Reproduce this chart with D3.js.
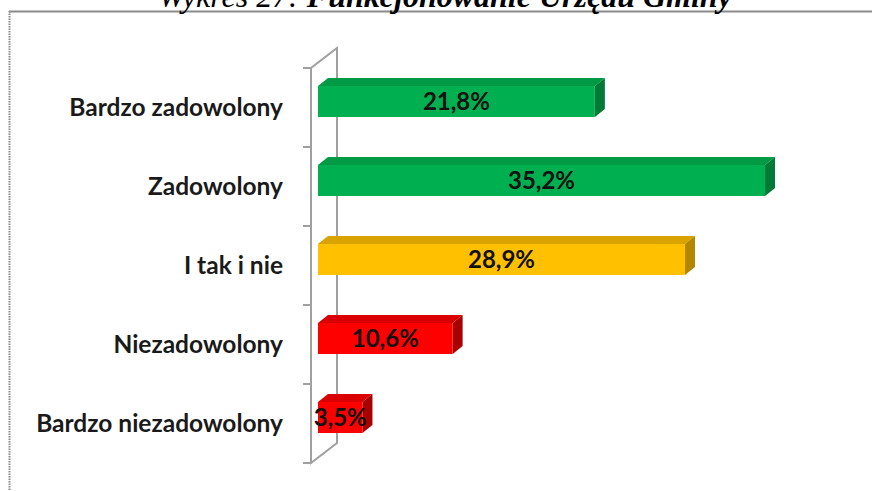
<!doctype html>
<html lang="pl">
<head>
<meta charset="UTF-8">
<title>Funkcjonowanie Urzędu Gminy</title>
<script src="https://d3js.org/d3.v7.min.js"></script>
<style>
    body { margin: 0; background: #fff; overflow: hidden; }
    svg { display: block; }
</style>
</head>
<body>
<div id="chart"></div>
<script>
    // data
    const categories = ["Bardzo zadowolony", "Zadowolony", "I tak i nie", "Niezadowolony", "Bardzo niezadowolony"];
    const values = [21.8, 35.2, 28.9, 10.6, 3.5];
    const valueLabels = ["21,8%", "35,2%", "28,9%", "10,6%", "3,5%"];
    const colorGroup = ["good", "good", "mid", "bad", "bad"];

    // face / top / side colours
    const palette = {
        good: ["#00b050", "#009a45", "#007a36"],
        mid:  ["#ffc000", "#d9a300", "#b38600"],
        bad:  ["#ff0000", "#d80000", "#a80000"]
    };

    const W = 872, H = 491;
    const svg = d3.select("#chart").append("svg")
        .attr("width", W).attr("height", H);

    // outer frame: solid top, dotted left
    svg.append("line")
        .attr("x1", 9).attr("x2", W).attr("y1", 11.5).attr("y2", 11.5)
        .attr("stroke", "#8a8a8a").attr("stroke-width", 2);
    svg.append("line")
        .attr("x1", 9.5).attr("x2", 9.5).attr("y1", 11).attr("y2", H)
        .attr("stroke", "#8a8a8a").attr("stroke-width", 2)
        .attr("stroke-dasharray", "1.5,1");

    // title (cut at the top like the scan)
    const title = svg.append("text")
        .attr("x", 445).attr("y", 7)
        .attr("text-anchor", "middle")
        .style("font-family", "'Liberation Serif', 'Times New Roman', serif")
        .style("font-style", "italic")
        .style("font-size", "32px");
    title.append("tspan").text("Wykres 27: ");
    title.append("tspan").style("font-weight", "bold").text("Funkcjonowanie Urzędu Gminy");

    const x = d3.scaleLinear().domain([0, 40]).range([318, 318 + 508]);
    const y = d3.scaleBand().domain(categories).range([68, 463]);

    const depthX = 10, depthY = -8;   // bar depth
    const wallX = 26, wallY = -20;    // axis wall depth
    const axisX = 311;
    const barH = 31;

    // axis wall
    const wall = svg.append("g")
        .attr("fill", "none")
        .attr("stroke", "#a0a0a0")
        .attr("stroke-width", 2);
    wall.append("path")
        .attr("d", "M" + axisX + "," + y.range()[0] + "V" + y.range()[1] +
            "L" + (axisX + wallX) + "," + (y.range()[1] + wallY) +
            "V" + (y.range()[0] + wallY) + "Z");

    // category ticks
    const tickYs = categories.map(c => y(c)).concat([y.range()[1]]);
    wall.selectAll("line.tick")
        .data(tickYs)
        .join("line")
        .attr("class", "tick")
        .attr("x1", axisX - 8).attr("x2", axisX)
        .attr("y1", d => d).attr("y2", d => d);

    // category labels
    svg.append("g").selectAll("text")
        .data(categories)
        .join("text")
        .attr("x", 283)
        .attr("y", d => y(d) + y.bandwidth() / 2)
        .attr("dy", "0.35em")
        .attr("text-anchor", "end")
        .style("font-family", "Lato, 'Open Sans', sans-serif")
        .style("font-weight", "bold")
        .style("font-size", "24.5px")
        .attr("fill", "#1a1a1a")
        .text(d => d);

    // 3D bars
    const bars = svg.append("g").selectAll("g")
        .data(values.map((v, i) => ({ v, i })))
        .join("g");

    function barTop(d) { return y(categories[d.i]) + y.bandwidth() / 2 - 6 - barH / 2; }

    // top face
    bars.append("path")
        .attr("fill", d => palette[colorGroup[d.i]][1])
        .attr("d", d => {
            const x0 = x(0), x1 = x(d.v), t = barTop(d);
            return "M" + x0 + "," + t + "L" + (x0 + depthX) + "," + (t + depthY) +
                "H" + (x1 + depthX) + "L" + x1 + "," + t + "Z";
        });
    // side face
    bars.append("path")
        .attr("fill", d => palette[colorGroup[d.i]][2])
        .attr("d", d => {
            const x1 = x(d.v), t = barTop(d);
            return "M" + x1 + "," + t + "L" + (x1 + depthX) + "," + (t + depthY) +
                "V" + (t + depthY + barH) + "L" + x1 + "," + (t + barH) + "Z";
        });
    // front face
    bars.append("rect")
        .attr("x", x(0))
        .attr("y", d => barTop(d))
        .attr("width", d => x(d.v) - x(0))
        .attr("height", barH)
        .attr("fill", d => palette[colorGroup[d.i]][0]);

    // value labels
    bars.append("text")
        .attr("x", d => (x(0) + x(d.v)) / 2)
        .attr("y", d => barTop(d) + barH / 2)
        .attr("dy", "0.35em")
        .attr("text-anchor", "middle")
        .style("font-family", "Lato, 'Open Sans', sans-serif")
        .style("font-weight", "bold")
        .style("font-size", "24px")
        .attr("fill", "#111")
        .text(d => valueLabels[d.i]);
</script>
</body>
</html>
